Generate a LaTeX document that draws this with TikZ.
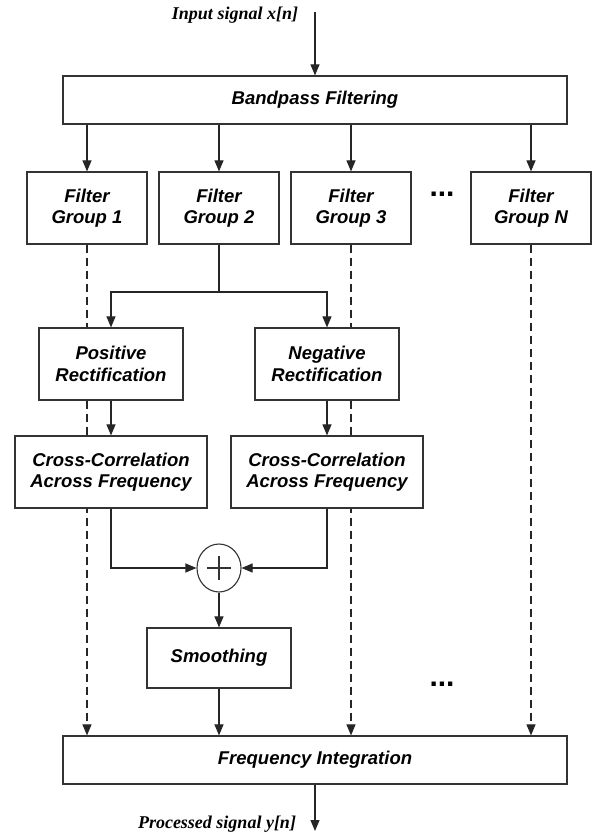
\documentclass[tikz,border=0pt]{standalone}
\usepackage{fontspec}
\setmainfont{Liberation Serif}
\setsansfont{Liberation Sans}
\usepackage{tikz}
\usetikzlibrary{arrows.meta,shapes.geometric,backgrounds}

\tikzset{
    block/.style={draw=black!80,fill=white,line width=1.2pt,align=center,inner sep=0pt,
        font=\sffamily\bfseries\itshape\fontsize{18.5}{21.5}\selectfont},
    sig/.style={font=\rmfamily\bfseries\itshape\fontsize{18}{20}\selectfont},
    more/.style={font=\sffamily\bfseries\fontsize{30}{30}\selectfont},
    flow/.style={draw=black!85,line width=1.1pt,-{Triangle[length=11pt,width=9pt]}},
    dashflow/.style={flow,dash pattern=on 8pt off 5pt}
}

\begin{document}
\begin{tikzpicture}[x=1pt,y=-1pt]
                \useasboundingbox (0,0) rectangle (593,837);
                \node[block,minimum width=504,minimum height=48] (bandpass) at (315,100) {Bandpass Filtering};
                \node[block,minimum width=120,minimum height=72] (fg1) at (87,208) {Filter\\Group 1};
                \node[block,minimum width=120,minimum height=72] (fg2) at (219,208) {Filter\\Group 2};
                \node[block,minimum width=120,minimum height=72] (fg3) at (351,208) {Filter\\Group 3};
                \node[block,minimum width=120,minimum height=72] (fgN) at (531,208) {Filter\\Group N};
                \node[more] (dotsA) at (442,194) {...};
                \node[block,minimum width=144,minimum height=72] (pos) at (111,364) {Positive\\Rectification};
                \node[block,minimum width=144,minimum height=72] (neg) at (327,364) {Negative\\Rectification};
                \node[block,minimum width=192,minimum height=72] (cc1) at (111,472) {Cross-Correlation\\Across Frequency};
                \node[block,minimum width=192,minimum height=72] (cc2) at (327,472) {Cross-Correlation\\Across Frequency};
                \node[draw=black!80,line width=1.1pt,ellipse,minimum width=44,minimum height=48,inner sep=0pt] (sum) at (219,568) {};
                \node[block,minimum width=144,minimum height=60] (smooth) at (219,658) {Smoothing};
                \node[more] (dotsB) at (442,684) {...};
                \node[block,minimum width=504,minimum height=48] (freq) at (315,760) {Frequency Integration};
                \node[sig] (insig) at (235,15) {Input signal x[n]};
                \node[sig] (outsig) at (217,824) {Processed signal y[n]};
                \coordinate (in) at (315,12);
                \coordinate (out) at (315,831);
                \coordinate (split) at (219,292);
                % plus sign
                \draw[black!80,line width=1.1pt] ([xshift=-12pt]sum.center) -- ([xshift=12pt]sum.center);
                \draw[black!80,line width=1.1pt] ([yshift=-12pt]sum.center) -- ([yshift=12pt]sum.center);
                \draw[flow] (in) -- (bandpass.north);
                \foreach \g in {fg1,fg2,fg3,fgN}
                    \draw[flow] (bandpass.south -| \g.north) -- (\g.north);
                \draw[draw=black!85,line width=1.1pt] (fg2.south) -- (split);
                \draw[flow] (split) -| (pos.north);
                \draw[flow] (split) -| (neg.north);
                \draw[flow] (pos.south) -- (cc1.north);
                \draw[flow] (neg.south) -- (cc2.north);
                \draw[flow] (cc1.south) |- (sum.west);
                \draw[flow] (cc2.south) |- (sum.east);
                \draw[flow] (sum.south) -- (smooth.north);
                \draw[flow] (smooth.south) -- (smooth.south |- freq.north);
                % bypass lines go behind the boxes
                \begin{scope}[on background layer]
                    \foreach \g in {fg1,fg3,fgN}
                        \draw[dashflow] (\g.south) -- (\g.south |- freq.north);
                \end{scope}
                \draw[flow] (freq.south) -- (out);
            \end{tikzpicture}
\end{document}
